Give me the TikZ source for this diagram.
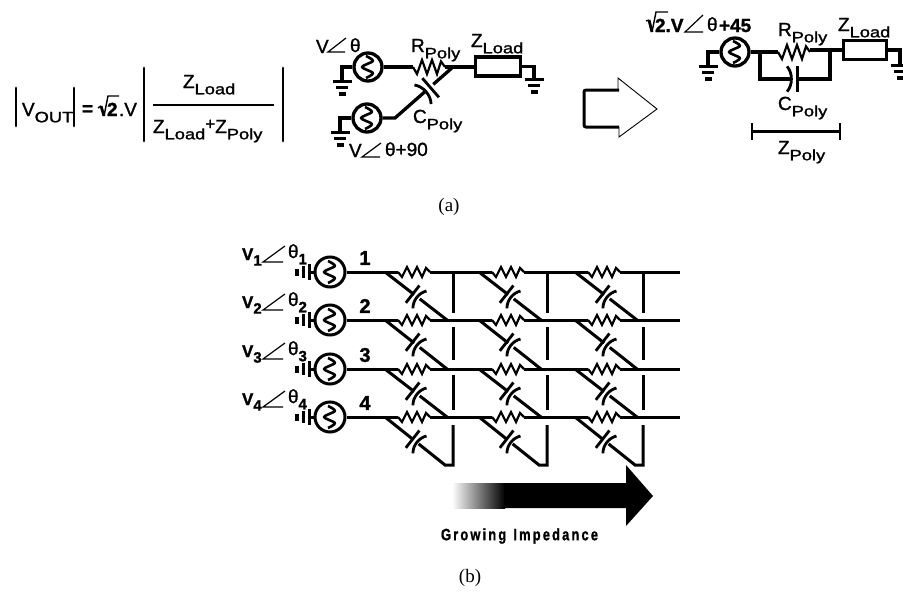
\documentclass[tikz,border=0pt]{standalone}
\usepackage{fontspec}
\usepackage{graphicx}
\setmainfont{Liberation Sans}[FakeBold=1.3]
\newfontfamily\capfont{Liberation Serif}
\usetikzlibrary{calc}
\newcommand\low[1]{\raisebox{-0.33em}{\fontsize{15}{15}\selectfont\scalebox{1.22}[1]{#1}}}
\newcommand\lowb[1]{\raisebox{-0.33em}{\fontsize{15}{15}\selectfont\bfseries #1}}
\tikzset{
  x=1pt,y=-1pt,
  wire/.style={line width=3.3pt,line join=miter},
  bwire/.style={line width=3pt},
  lbl/.style={anchor=base west,inner sep=0pt,outer sep=0pt,font=\fontsize{19}{19}\selectfont},
  blbl/.style={anchor=base west,inner sep=0pt,outer sep=0pt,font=\fontsize{19}{19}\selectfont\bfseries},
  num/.style={anchor=center,inner sep=0pt,font=\fontsize{20}{20}\selectfont\bfseries},
  cap text/.style={anchor=center,inner sep=0pt,font=\capfont\fontsize{19}{19}\selectfont},
  srca/.style={circle,draw,line width=3.3pt,minimum size=28pt,inner sep=0pt},
  srcb/.style={circle,draw,line width=3pt,minimum size=30pt,inner sep=0pt},
  angl/.style={line width=1.2pt},
  wave/.pic={\draw[line width=2.6pt,line join=round] plot[smooth] coordinates {(-2,-11)(5,-6)(-6,0)(5,6)(-2,11)};},
  resi/.pic={\draw[line width=2.2pt,line join=miter] (0,0)--(4,5)--(9,-5)--(14,5)--(19,-5)--(24,5)--(28,-4)--(32,0);},
  capa/.pic={\draw[line width=2.8pt] (-3,-11)--(-3,11);
             \draw[line width=2.8pt] (6,-11) .. controls (1,-5) and (1,5) .. (6,11);},
  gnd/.pic={\draw[line width=3pt] (-9.5,0)--(9.5,0);
            \draw[line width=3pt] (-6,6)--(6,6);
            \draw[line width=3.8pt] (-3.5,13)--(3.5,13);},
}
\begin{document}
\begin{tikzpicture}
\clip (0,0) rectangle (903,595);
\fill[white] (0,0) rectangle (903,595);

% ---------- equation
\draw[line width=2.8pt,line cap=round] (16,88)--(16,126) (74,88)--(74,126);
\draw[line width=2.8pt,line cap=round] (144,68)--(144,141) (283,68)--(283,141);
\draw[line width=2.4pt] (153,105)--(274,105);
\node[lbl] (vout) at (22,116) {V\low{OUT}};
\node[lbl,font=\fontsize{19}{19}\selectfont\bfseries] (eq) at (82,115) {=};
\draw[line width=1.4pt] (98,108)--(101,106);
\draw[line width=2.8pt] (101,106)--(104,116);
\draw[line width=1.4pt] (104,116)--(108,96)--(119,96);
\node[lbl,font=\fontsize{19}{19}\selectfont\bfseries] (two) at (107,116) {2};
\node[lbl] (dotv) at (119,116) {.V};
\node[lbl] (znum) at (183,88) {Z\low{Load}};
\node[lbl] (zden) at (153,133) {Z\low{Load}{\fontsize{17}{17}\selectfont\raisebox{.2em}{+}}Z\low{Poly}};

% ---------- circuit a (left)
\node[srca] (sa) at (368,67) {};
\path (sa.center) pic {wave};
\node[srca] (sb) at (367,118) {};
\path (sb.center) pic {wave};
\coordinate (ga) at (342,81);
\coordinate (gb) at (340,132);
\draw[wire] (sa.west)-|(ga);
\path (ga) pic {gnd};
\draw[wire] (sb.west)-|(gb);
\path (gb) pic {gnd};
\coordinate (ra) at (413,67);
\coordinate (rb) at (445,67);
\coordinate (jn) at (453,67);
\coordinate (dg) at (395,118);
\coordinate (ca) at (428,90);
\draw[wire] (sa.east)--(ra) (rb)--(475,67);
\path (ra) pic[yscale=1.4]{resi};
\draw[wire] (sb.east)--(dg)--($(dg)!0.52!(jn)$);
\draw[wire] ($(dg)!0.66!(jn)$)--(jn);
\path (ca) pic[rotate=221,scale=1.15]{capa};
\node[draw,line width=3.3pt,minimum width=45pt,minimum height=19pt,inner sep=0pt] (load) at (498,66.5) {};
\coordinate (gc) at (534,79);
\draw[wire] (load.east)-|(gc);
\path (gc) pic {gnd};
\node[lbl] (va) at (316,53) {V};
\draw[angl] (346,38)--(328,52)--(345,52);
\node[lbl] (tha) at (350,52) {θ};
\node[lbl] (rpa) at (411,52) {R\low{Poly}};
\node[lbl] (zla) at (471,47) {Z\low{Load}};
\node[lbl] (cpa) at (413,123) {C\low{Poly}};
\node[lbl] (vb) at (349,157) {V};
\draw[angl] (381,143)--(362,157)--(380,157);
\node[lbl] (thb) at (385,156) {θ+90};

% ---------- big arrow
\draw[line width=0.9pt,line join=miter] (618,90)--(618,78)--(657,109)--(619,137)--(619,127);
\draw[line width=3pt,rounded corners=2pt] (619,90)--(584,90)--(584,127)--(619,127);

% ---------- circuit a (right)
\node[srca] (sc) at (735,52) {};
\path (sc.center) pic {wave};
\coordinate (gd) at (708,66);
\draw[wire] (sc.west)-|(gd);
\path (gd) pic {gnd};
\coordinate (rc) at (778,52);
\coordinate (nl) at (760,52);
\coordinate (nr) at (830,50);
\draw[wire] (sc.east)--(rc) (810,50)--(844,50);
\path (rc) pic[yscale=1.4]{resi};
\draw[wire] (nl)--(760,79)--(790,79) (798,79)--(830,79)--(nr);
\path (794,79) pic[rotate=180,scale=1.15]{capa};
\node[draw,line width=3.3pt,minimum width=43pt,minimum height=19pt,inner sep=0pt] (loadb) at (865,50) {};
\coordinate (ge) at (900,65);
\draw[wire] (loadb.east)-|(ge);
\path (ge) pic {gnd};
\draw[line width=2.2pt] (752,123)--(752,140) (840,123)--(840,140) (752,131.5)--(840,131.5);
\draw[line width=1.4pt] (646,21)--(649,20);
\draw[line width=2.8pt] (649,20)--(652,32);
\draw[line width=1.4pt] (652,32)--(656,12)--(668,12);
\node[blbl] (tw) at (655,32) {2.V};
\draw[angl] (703,15)--(685,32)--(703,32);
\node[lbl] (thc) at (707,31) {θ};
\node[blbl] (pl) at (719,32) {+45};
\node[lbl] (rpb) at (778,36) {R\low{Poly}};
\node[lbl] (zlb) at (838,31) {Z\low{Load}};
\node[lbl] (cpb) at (778,110) {C\low{Poly}};
\node[lbl] (zpb) at (778,154) {Z\low{Poly}};

\node[cap text] (capa) at (449,207) {(a)};

% ---------- network b
\foreach \r/\yy/\nxt/\vta/\vtb in {1/272/320/272/313,2/320/369/327/360,3/369/417/375/410}{
  \foreach \o/\d in {0/0,94/94,190/190}{
    \coordinate (ds) at ({385+\d},\yy);
    \coordinate (de) at ({447+\d},\nxt);
    \draw[bwire] (ds)--($(ds)!0.47!(de)$) ($(ds)!0.56!(de)$)--(de);
    \path ({415+\d},{\yy+24}) pic[rotate=-38]{capa};
    \draw[bwire] ({453+\o},\vta)--({453+\o},\vtb);
  }
}
\foreach \o in {0,94,190}{
  \coordinate (ds) at ({385+\o},417);
  \coordinate (de) at ({445+\o},465);
  \coordinate (dv) at ({453+\o},465);
  \draw[bwire] (ds)--($(ds)!0.47!(de)$) ($(ds)!0.56!(de)$)--(de)--(dv)--({453+\o},425);
  \path ({415+\o},441) pic[rotate=-38]{capa};
}
\foreach \r/\yy in {1/272,2/320,3/369,4/417}{
  \node[srcb] (s\r) at (330,\yy) {};
  \path (s\r.center) pic {wave};
  \coordinate (g\r) at (309,\yy);
  \draw[bwire] (s\r.west)--(g\r);
  \draw[line width=3pt] (309,{\yy-8})--(309,{\yy+8});
  \draw[line width=3pt] (303,{\yy-6})--(303,{\yy+6});
  \draw[line width=3.2pt] (297,{\yy-3.5})--(297,{\yy+3.5});
  \draw[bwire] (s\r.east)--(398,\yy) (430,\yy)--(492,\yy) (524,\yy)--(588,\yy) (620,\yy)--(680,\yy);
  \path (398,\yy) pic {resi};
  \path (492,\yy) pic {resi};
  \path (588,\yy) pic {resi};
  \node[num] (n\r) at (365,{\yy-14}) {\r};
  \node[lbl,font=\fontsize{17}{17}\selectfont\bfseries] (v\r) at (242,{\yy-12}) {V\lowb{\r}};
  \draw[angl] (285,{\yy-26})--(263,{\yy-10})--(283,{\yy-10});
  \node[lbl] (t\r) at (288,{\yy-14}) {θ\low{\scalebox{.82}[1]{\textbf{\r}}}};
}

% ---------- growing arrow
\shade[left color=white,right color=black] (452,483) rectangle (505,508);
\fill[black] (504,483)--(626,483)--(626,465)--(653,496)--(626,526)--(626,508)--(504,508)--cycle;
\node[inner sep=0pt,font=\fontsize{15}{15}\selectfont\bfseries] (gi) at (519.5,536) {\scalebox{.86}[1.1]{G\,r\,o\,w\,i\,n\,g\ \ I\,m\,p\,e\,d\,a\,n\,c\,e}};
\node[cap text] (capb) at (470,578) {(b)};
\end{tikzpicture}
\end{document}
